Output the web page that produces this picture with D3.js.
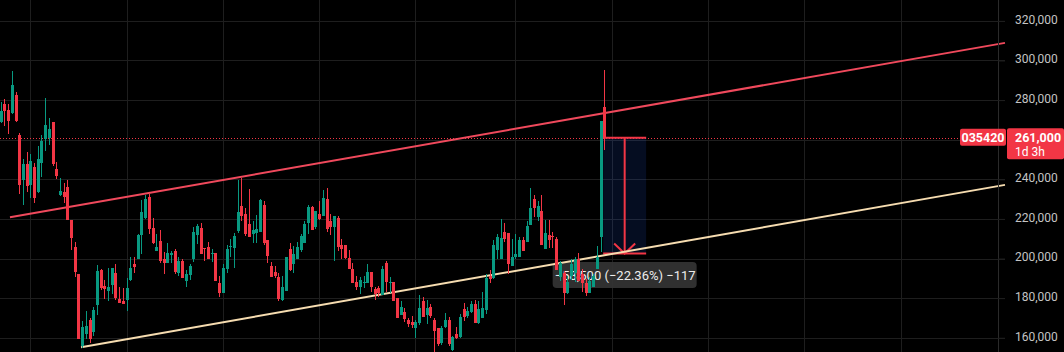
<!DOCTYPE html>
<html>
<head>
<meta charset="utf-8">
<script src="https://cdn.jsdelivr.net/npm/d3@7"></script>
<style>
html, body { margin: 0; padding: 0; background: #000; overflow: hidden; }
svg { display: block; font-family: Roboto, "Trebuchet MS", sans-serif; }
</style>
</head>
<body>
<script>
// daily candles, prices in thousand won
var opens = [269,278,275,273.5,282.5,262.5,239.5,247.5,237,246,233.5,248,260.5,261,269,245,232,233.5,236,219.5,
  206,192,156,162,169,163,176.5,194,186,183.5,186.5,192.5,179.5,178.5,179,189,197,200,212,220.5,
  231,215.5,204,209,200,197.5,202,204,192.5,199,188.5,191.5,200,212,215.5,205.5,206,202.5,203,187.5,
  182.5,194.5,206,205.5,214,226.5,222.5,217.5,212.5,213,213.5,227,209.5,196,193,190.5,179,183.5,205,197,
  200,204.5,208,218,226,216,222.5,221.5,230,219,216,220.5,207,207,200.5,194.5,188,185.5,187.5,187.5,
  193,184.5,185,181.5,197.5,187.5,188,180,171.5,173,169,168,165,167.5,178.5,171.5,175.5,169,165,157.5,
  165.5,169,154,162,160.5,174.5,171,173,177,167.5,170,174,191,190,204.5,200,213.5,213,196,201,
  201,209.5,208.5,217,230,221,224,205,212,211.5,210,190.5,192.5,182.5,191,192.5,200,192,187.5,182.5,
  185.5,194.5,211,276.5];
var highs = [279,280.5,278,294.5,284,263.5,250.5,254,253,248,257,262.5,281,271,269,248.5,240.5,238,239.5,219.5,
  208.5,192,168.5,173.5,170,175.5,196.5,194.5,189,195,195,197,185.5,185,190,201,201,212.5,229.5,232,
  232.5,220.5,212.5,214.5,203.5,208,204,205,201,200,194,197,216,217.5,218,205.5,208.5,205,203,191,
  197,207,210,213,239.5,240.5,225.5,235,219,222,230,229,209.5,198,196,192.5,191,201,208,206.5,
  208.5,212.5,219,227,226.5,224,229,234.5,235.5,222.5,221.5,221.5,210,207,204.5,197.5,191,190.5,191,197,
  193,185.5,186,196,198.5,190.5,188,180,178.5,175,170,171,169,181.5,180.5,179,177,170,165,166,
  172.5,170.5,161,165.5,172,177.5,175.5,178.5,179,178.5,183,192,194,209.5,212.5,220,218,213,210,212.5,
  211,211,219,235.5,232,229,232,219.5,219.5,213.5,211,199,193.5,191,200,201,203,194.5,189.5,190.5,
  192,206.5,269.5,295];
var lows = [268.5,267,263,273,269,232.5,227,233.5,230.5,228,233,241,254.5,257.5,246.5,240,231.5,228,219.5,204.5,
  190.5,159.5,155,159.5,157.5,161,171.5,184,179.5,178.5,182,179,177.5,177,173.5,188.5,192.5,200,202.5,220,
  212.5,207.5,204,197.5,192,197.5,197.5,192,191,190,185.5,189,198,207.5,202.5,199,200,198,188.5,180.5,
  182.5,192.5,201,195,213,219,211.5,211,208,208,213.5,207,197.5,190.5,190,178.5,178.5,183.5,193.5,192.5,
  200,203.5,208,212.5,214.5,215,219.5,221.5,213.5,212,198.5,204,200,200,194.5,187.5,184,182,185,187.5,
  183,179,180.5,181.5,183,182.5,178.5,170,171.5,168,165.5,165,160,166.5,170.5,167,170,153,156,156.5,
  165,156,153.5,159.5,160,168.5,170,172.5,167.5,167,170,172,187.5,189.5,200,200,208.5,192,196,200,
  201,204,208.5,217,221,219,207,205,205.5,205.5,194,188.5,176.5,182,189,188,188.5,183,181,182.5,
  185.5,194.5,203.5,255];
var closes = [274.5,274.5,269.5,287.5,269.5,237,247.5,236.5,249,230.5,250.5,259.5,267.5,265.5,247.5,241.5,234,231,219.5,210.5,
  193,159.5,165.5,166,159.5,174,193.5,185,184.5,185.5,195,180,177.5,177,185,195,195.5,212,223.5,230,
  215,208,206,199,197.5,203,203,193,199,190,192,196,213.5,216.5,202.5,205,200,203,188.5,182.5,
  195,205,206.5,211.5,223.5,221.5,212.5,211,214.5,215,229.5,208,201.5,190.5,191,179.5,185.5,201,194,202.5,
  206,211.5,217.5,226,214.5,224,220,230.5,215,216,221.5,206,205,200.5,194.5,187.5,185.5,189,188,193,
  185.5,182,182.5,194.5,188,188,178.5,170,175.5,169.5,167,166.5,168,175,170.5,175,171,163.5,157,165,
  169,157,160.5,160,170.5,170.5,173.5,177,167.5,174.5,175,190,189.5,207,211,210.5,210,197,201,202.5,
  209.5,204,216.5,225.5,225.5,226.5,207,213,209.5,211,194,197.5,182.5,188,197,200,188.5,187.5,182.5,188.5,
  191,201,269.5,261];

var gridPrices = [160, 180, 200, 220, 240, 260, 280, 300, 320];
var labelPrices = [160, 180, 200, 220, 240, 280, 300, 320]; // 260,000 sits under the last price tag
var monthTicks = [8, 34, 60, 86, 112, 139, 165, 191, 217, 243]; // bar index of the time grid
var ticker = "035420";
var lastPrice = 261;
var countdown = "1d 3h";

// trend lines as [bar index, price]
var upperLine = [[2.5, 220.8], [271.2, 308.9]];
var lowerLine = [[21.7, 155.2], [271.2, 237.2]];

// price range drawing
var rangeBars = [162.7, 174.3];
var rangePrices = [261, 202.5];
var rangeText = "\u221258,500 (\u221222.36%) \u2212117";

var W = 1064, H = 352;
var plotW = 998;
var up = "#089981", down = "#f23645";
var gridCol = "#1e1e1e";

var bars = d3.range(opens.length).map(function (i) {
    return { i: i, o: opens[i], h: highs[i], l: lows[i], c: closes[i] };
});

var x = d3.scaleLinear().domain([0, bars.length - 1]).range([0.7, 604.3]);
var y = d3.scaleLinear().domain([152.8, 330.55]).range([H, 0]);
var fmt = function (d) { return d3.format(",")(Math.round(d * 1000)); };

var svg = d3.select("body").append("svg")
    .attr("width", W)
    .attr("height", H)
    .style("background", "#000");

// grid
svg.append("g").attr("class", "vgrid")
    .selectAll("line")
    .data(monthTicks)
    .join("line")
    .attr("x1", d => Math.round(x(d)) + 0.5)
    .attr("x2", d => Math.round(x(d)) + 0.5)
    .attr("y1", 0).attr("y2", H)
    .attr("stroke", gridCol);

svg.append("g").attr("class", "hgrid")
    .selectAll("line")
    .data(gridPrices)
    .join("line")
    .attr("x1", 0).attr("x2", plotW + 7)
    .attr("y1", d => Math.round(y(d)) + 0.5)
    .attr("y2", d => Math.round(y(d)) + 0.5)
    .attr("stroke", gridCol);

// last price dotted line
svg.append("line")
    .attr("x1", 0).attr("x2", 960)
    .attr("y1", Math.round(y(lastPrice)) + 0.5)
    .attr("y2", Math.round(y(lastPrice)) + 0.5)
    .attr("stroke", down)
    .attr("stroke-dasharray", "1 2");

// price range drawing (under the candles)
var rx0 = x(rangeBars[0]), rx1 = x(rangeBars[1]);
var ry0 = y(rangePrices[0]), ry1 = y(rangePrices[1]);
var rg = svg.append("g").attr("class", "range");
rg.append("rect")
    .attr("x", rx0).attr("y", ry0)
    .attr("width", rx1 - rx0).attr("height", ry1 - ry0)
    .attr("fill", "rgba(41,98,255,0.13)");
rg.selectAll("line.edge")
    .data([ry0, ry1])
    .join("line")
    .attr("class", "edge")
    .attr("x1", rx0).attr("x2", rx1)
    .attr("y1", d => d).attr("y2", d => d)
    .attr("stroke", down).attr("stroke-width", 2);
var ax = (rx0 + rx1) / 2;
rg.append("line")
    .attr("x1", ax).attr("x2", ax)
    .attr("y1", ry0).attr("y2", ry1)
    .attr("stroke", down).attr("stroke-width", 2);
rg.append("path")
    .attr("d", "M" + (ax - 10.5) + "," + (ry1 - 10) + "L" + ax + "," + ry1 + "L" + (ax + 10.5) + "," + (ry1 - 10))
    .attr("fill", "none")
    .attr("stroke", down).attr("stroke-width", 2);

// label of the range tool
var lab = svg.append("g").attr("class", "rangelabel");
lab.append("rect")
    .attr("x", ax - 72).attr("y", ry1 + 8.5)
    .attr("width", 144).attr("height", 26)
    .attr("rx", 4)
    .attr("fill", "rgba(52,52,52,0.92)");
lab.append("text")
    .attr("x", ax + 0.5).attr("y", ry1 + 26)
    .attr("text-anchor", "middle")
    .attr("fill", "#ececec")
    .style("font-size", "13px")
    .text(rangeText);

// trend lines
var tl = d3.line().x(d => x(d[0])).y(d => y(d[1]));
svg.append("path").attr("d", tl(upperLine))
    .attr("stroke", "#f0495c").attr("stroke-width", 2).attr("fill", "none");
svg.append("path").attr("d", tl(lowerLine))
    .attr("stroke", "#f6dcb0").attr("stroke-width", 2).attr("fill", "none");

// candles
var cg = svg.append("g").attr("class", "candles").attr("shape-rendering", "crispEdges");
cg.selectAll("line")
    .data(bars)
    .join("line")
    .attr("x1", d => Math.round(x(d.i)) + 0.5)
    .attr("x2", d => Math.round(x(d.i)) + 0.5)
    .attr("y1", d => y(d.h))
    .attr("y2", d => y(d.l))
    .attr("stroke", d => d.c >= d.o ? up : down);
cg.selectAll("rect")
    .data(bars)
    .join("rect")
    .attr("x", d => Math.round(x(d.i)) - 1)
    .attr("width", 3)
    .attr("y", d => y(Math.max(d.o, d.c)))
    .attr("height", d => Math.max(1, Math.abs(y(d.o) - y(d.c))))
    .attr("fill", d => d.c >= d.o ? up : down);

// right price axis
svg.append("line")
    .attr("x1", plotW + 0.5).attr("x2", plotW + 0.5)
    .attr("y1", 0).attr("y2", H)
    .attr("stroke", "#2a2a2a");

var yAxis = svg.append("g")
    .attr("transform", "translate(" + plotW + ",0)")
    .call(d3.axisRight(y).tickValues(labelPrices).tickSize(7).tickPadding(10).tickFormat(fmt));
yAxis.select(".domain").remove();
yAxis.selectAll(".tick line").attr("stroke", gridCol);
yAxis.selectAll(".tick text")
    .attr("fill", "#c4c4c4")
    .attr("dy", "0.2em")
    .style("font-size", "12px")
    .style("font-family", "Roboto, sans-serif");

// ticker and last price labels
var py = y(lastPrice);
svg.append("rect")
    .attr("x", 960).attr("y", py - 9)
    .attr("width", 46).attr("height", 17)
    .attr("rx", 2)
    .attr("fill", down);
svg.append("text")
    .attr("x", 983).attr("y", py + 4.5)
    .attr("text-anchor", "middle")
    .attr("fill", "#fff")
    .style("font-size", "12.5px").style("font-weight", "bold")
    .text(ticker);

svg.append("rect")
    .attr("x", 1007).attr("y", py - 9.5)
    .attr("width", 57).attr("height", 31)
    .attr("rx", 2)
    .attr("fill", down);
svg.append("text")
    .attr("x", 1015).attr("y", py + 4.5)
    .attr("fill", "#fff")
    .style("font-size", "12.5px").style("font-weight", "bold")
    .text(fmt(lastPrice));
svg.append("text")
    .attr("x", 1015).attr("y", py + 18)
    .attr("fill", "#fff")
    .style("font-size", "12px")
    .text(countdown);
</script>
</body>
</html>
